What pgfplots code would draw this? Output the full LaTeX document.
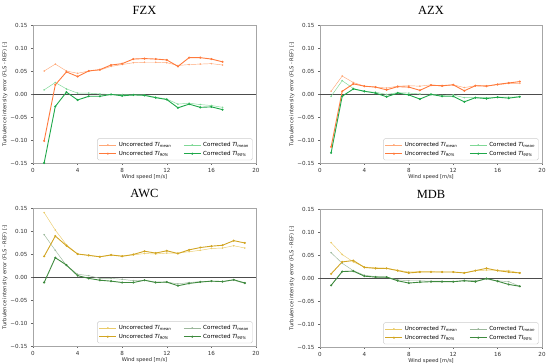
\documentclass[border=0pt]{standalone}
\usepackage{pgfplots}
\pgfplotsset{compat=1.18}
\usepackage{fontspec}
\setmainfont{DejaVu Sans}
\newfontfamily\titlefont{Liberation Serif}
\definecolor{umA}{HTML}{FFA878}
\definecolor{unA}{HTML}{FF7A3C}
\definecolor{cmA}{HTML}{7FD896}
\definecolor{cnA}{HTML}{1FA84A}
\definecolor{umB}{HTML}{EACB6A}
\definecolor{unB}{HTML}{D2A523}
\definecolor{cmB}{HTML}{9CB89C}
\definecolor{cnB}{HTML}{3E8A3E}
\pgfplotsset{
  panel/.style={
    scale only axis, width=223bp, height=138bp, anchor=south west,
    xmin=0, xmax=20, ymin=-0.15, ymax=0.15,
    xtick={0,4,8,12,16,20},
    ytick={-0.15,-0.10,-0.05,0,0.05,0.10,0.15},
    yticklabels={−0.15,−0.10,−0.05,0.00,0.05,0.10,0.15},
    /pgf/number format/assume math mode=true,
    tick label style={font=\fontsize{5.6}{6}\selectfont, text=black!80},
    tick align=outside, tick pos=left,
    major tick length=2bp,
    every tick/.style={black!60, line width=0.4pt},
    axis line style={black!35, line width=0.5pt},
    xlabel={Wind speed [m/s]},
    ylabel={Turbulence intensity error (FLS - REF) [-]},
    label style={font=\fontsize{5.2}{6}\selectfont, text=black!85},
    xlabel style={yshift=5bp},
    ylabel style={yshift=-4bp},
    title style={font=\titlefont\fontsize{12.5}{14}\selectfont, yshift=1bp},
    legend columns=2,
    legend cell align=left,
    legend style={at={(0.985,0.02)}, anchor=south east, draw=black!20, rounded corners=1.5pt,
      font=\fontsize{5.6}{7}\selectfont, inner sep=1.5pt, row sep=-1pt,
      /tikz/every even column/.append style={column sep=10bp}},
    every axis plot/.append style={mark=*, mark size=0.55pt},
    clip=false,
  },
  um/.style={line width=0.45pt},
  un/.style={line width=0.9pt},
}
\begin{document}
\begin{tikzpicture}
\useasboundingbox (0bp,0bp) rectangle (550bp,364bp);
% FZX
\begin{axis}[panel, at={(33bp,201bp)}, title={FZX}]
\draw[black!70, line width=1pt] (axis cs:0,0) -- (axis cs:20,0);
\addplot[umA, um] coordinates {(1,0.050)(2,0.065)(3,0.050)(4,0.045)(5,0.050)(6,0.052)(7,0.060)(8,0.064)(9,0.068)(10,0.069)(11,0.069)(12,0.068)(13,0.062)(14,0.064)(15,0.065)(16,0.066)(17,0.063)};
\addlegendentry{Uncorrected \textit{TI}\textsubscript{\textit{mean}}}
\addplot[cmA, um] coordinates {(1,0.009)(2,0.025)(3,0.011)(4,0.002)(5,0.002)(6,0.000)(7,-0.001)(8,-0.001)(9,-0.002)(10,-0.002)(11,-0.007)(12,-0.011)(13,-0.022)(14,-0.020)(15,-0.023)(16,-0.025)(17,-0.029)};
\addlegendentry{Corrected \textit{TI}\textsubscript{\textit{mean}}}
\addplot[unA, un] coordinates {(1,-0.102)(2,0.020)(3,0.048)(4,0.038)(5,0.050)(6,0.053)(7,0.063)(8,0.066)(9,0.076)(10,0.077)(11,0.076)(12,0.074)(13,0.060)(14,0.079)(15,0.079)(16,0.076)(17,0.070)};
\addlegendentry{Uncorrected \textit{TI}\textsubscript{\textit{90\%}}}
\addplot[cnA, un] coordinates {(1,-0.150)(2,-0.027)(3,0.004)(4,-0.013)(5,-0.005)(6,-0.005)(7,-0.001)(8,-0.004)(9,-0.002)(10,-0.003)(11,-0.008)(12,-0.012)(13,-0.030)(14,-0.022)(15,-0.029)(16,-0.028)(17,-0.034)};
\addlegendentry{Corrected \textit{TI}\textsubscript{\textit{90\%}}}
\end{axis}
% AZX
\begin{axis}[panel, at={(320bp,201bp)}, width=222bp, title={AZX}]
\draw[black!70, line width=1pt] (axis cs:0,0) -- (axis cs:20,0);
\addplot[umA, um] coordinates {(1,0.006)(2,0.039)(3,0.025)(4,0.017)(5,0.015)(6,0.013)(7,0.017)(8,0.018)(9,0.017)(10,0.020)(11,0.017)(12,0.020)(13,0.014)(14,0.018)(15,0.018)(16,0.020)(17,0.023)(18,0.023)};
\addlegendentry{Uncorrected \textit{TI}\textsubscript{\textit{mean}}}
\addplot[cmA, um] coordinates {(1,-0.005)(2,0.029)(3,0.012)(4,0.005)(5,0.004)(6,-0.001)(7,0.003)(8,0.002)(9,0.000)(10,0.000)(11,-0.003)(12,-0.002)(13,-0.008)(14,-0.008)(15,-0.008)(16,-0.007)(17,-0.007)(18,-0.006)};
\addlegendentry{Corrected \textit{TI}\textsubscript{\textit{mean}}}
\addplot[unA, un] coordinates {(1,-0.115)(2,0.006)(3,0.022)(4,0.017)(5,0.015)(6,0.009)(7,0.016)(8,0.015)(9,0.008)(10,0.019)(11,0.018)(12,0.020)(13,0.007)(14,0.018)(15,0.017)(16,0.021)(17,0.024)(18,0.027)};
\addlegendentry{Uncorrected \textit{TI}\textsubscript{\textit{90\%}}}
\addplot[cnA, un] coordinates {(1,-0.128)(2,-0.005)(3,0.011)(4,0.006)(5,0.002)(6,-0.006)(7,0.002)(8,-0.002)(9,-0.011)(10,-0.001)(11,-0.005)(12,-0.005)(13,-0.017)(14,-0.008)(15,-0.010)(16,-0.007)(17,-0.009)(18,-0.006)};
\addlegendentry{Corrected \textit{TI}\textsubscript{\textit{90\%}}}
\end{axis}
% AWC
\begin{axis}[panel, at={(33bp,18bp)}, title={AWC}]
\draw[black!70, line width=1pt] (axis cs:0,0) -- (axis cs:20,0);
\addplot[umB, um] coordinates {(1,0.140)(2,0.102)(3,0.070)(4,0.050)(5,0.047)(6,0.044)(7,0.047)(8,0.046)(9,0.048)(10,0.051)(11,0.050)(12,0.052)(13,0.052)(14,0.055)(15,0.058)(16,0.062)(17,0.063)(18,0.068)(19,0.063)};
\addlegendentry{Uncorrected \textit{TI}\textsubscript{\textit{mean}}}
\addplot[cmB, um] coordinates {(1,0.092)(2,0.058)(3,0.025)(4,0.006)(5,0.003)(6,-0.003)(7,-0.003)(8,-0.005)(9,-0.008)(10,-0.007)(11,-0.011)(12,-0.011)(13,-0.015)(14,-0.012)(15,-0.010)(16,-0.009)(17,-0.010)(18,-0.007)(19,-0.014)};
\addlegendentry{Corrected \textit{TI}\textsubscript{\textit{mean}}}
\addplot[unB, un] coordinates {(1,0.045)(2,0.089)(3,0.068)(4,0.050)(5,0.047)(6,0.044)(7,0.048)(8,0.045)(9,0.049)(10,0.056)(11,0.052)(12,0.057)(13,0.051)(14,0.059)(15,0.064)(16,0.067)(17,0.069)(18,0.079)(19,0.074)};
\addlegendentry{Uncorrected \textit{TI}\textsubscript{\textit{90\%}}}
\addplot[cnB, un] coordinates {(1,-0.012)(2,0.042)(3,0.026)(4,0.003)(5,-0.003)(6,-0.007)(7,-0.009)(8,-0.012)(9,-0.012)(10,-0.007)(11,-0.012)(12,-0.011)(13,-0.019)(14,-0.014)(15,-0.011)(16,-0.009)(17,-0.010)(18,-0.006)(19,-0.013)};
\addlegendentry{Corrected \textit{TI}\textsubscript{\textit{90\%}}}
\end{axis}
% MDB
\begin{axis}[panel, at={(320bp,17bp)}, width=222bp, title={MDB}]
\draw[black!70, line width=1pt] (axis cs:0,0) -- (axis cs:20,0);
\addplot[umB, um] coordinates {(1,0.077)(2,0.051)(3,0.035)(4,0.024)(5,0.022)(6,0.021)(7,0.017)(8,0.013)(9,0.014)(10,0.014)(11,0.013)(12,0.013)(13,0.011)(14,0.016)(15,0.017)(16,0.017)(17,0.016)(18,0.011)};
\addlegendentry{Uncorrected \textit{TI}\textsubscript{\textit{mean}}}
\addplot[cmB, um] coordinates {(1,0.055)(2,0.032)(3,0.016)(4,0.006)(5,0.003)(6,0.002)(7,-0.004)(8,-0.006)(9,-0.006)(10,-0.007)(11,-0.007)(12,-0.008)(13,-0.005)(14,-0.006)(15,-0.003)(16,-0.006)(17,-0.008)(18,-0.018)};
\addlegendentry{Corrected \textit{TI}\textsubscript{\textit{mean}}}
\addplot[unB, un] coordinates {(1,0.009)(2,0.035)(3,0.038)(4,0.023)(5,0.021)(6,0.021)(7,0.016)(8,0.011)(9,0.013)(10,0.013)(11,0.013)(12,0.013)(13,0.011)(14,0.016)(15,0.021)(16,0.016)(17,0.013)(18,0.011)};
\addlegendentry{Uncorrected \textit{TI}\textsubscript{\textit{90\%}}}
\addplot[cnB, un] coordinates {(1,-0.016)(2,0.014)(3,0.015)(4,0.004)(5,0.002)(6,0.002)(7,-0.006)(8,-0.011)(9,-0.009)(10,-0.008)(11,-0.008)(12,-0.008)(13,-0.006)(14,-0.008)(15,-0.001)(16,-0.007)(17,-0.014)(18,-0.018)};
\addlegendentry{Corrected \textit{TI}\textsubscript{\textit{90\%}}}
\end{axis}
\end{tikzpicture}
\end{document}
